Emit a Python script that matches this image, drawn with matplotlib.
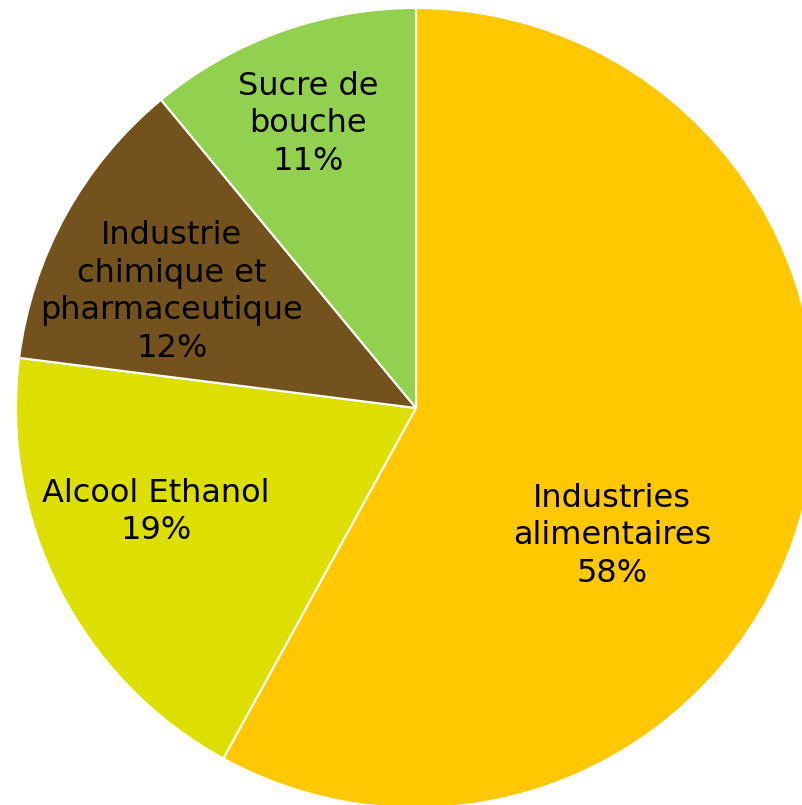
import matplotlib
matplotlib.use("Agg")
import matplotlib.pyplot as plt
import numpy as np

categories = ["Industries\nalimentaires", "Alcool Ethanol", "Industrie\nchimique et\npharmaceutique", "Sucre de\nbouche"]
values = [58, 19, 12, 11]
colors = ["#FFC800", "#DDDF00", "#74521D", "#92D050"]
label_pos = [(0.49, -0.32), (-0.65, -0.26), (-0.61, 0.29), (-0.27, 0.71)]

W, H = 803, 805
fig = plt.figure(figsize=(W / 100, H / 100), dpi=100)
cx, cy, R = 416, 408, 400
ax = fig.add_axes([(cx - R) / W, (H - cy - R) / H, 2 * R / W, 2 * R / H])
ax.pie(values, colors=colors, startangle=90, counterclock=False, radius=1,
       wedgeprops=dict(edgecolor="white", linewidth=1.5))
ax.set_xlim(-1, 1)
ax.set_ylim(-1, 1)
ax.set_aspect("equal")
ax.axis("off")

for cat, v, (x, y) in zip(categories, values, label_pos):
    ax.text(x, y, f"{cat}\n{v}%", ha="center", va="center", fontsize=23,
            family="DejaVu Sans", color="black", linespacing=1.27)

fig.savefig("out.png", dpi=100)
